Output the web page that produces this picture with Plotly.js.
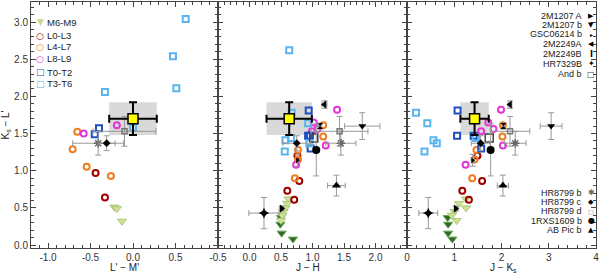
<!DOCTYPE html>
<html><head><meta charset="utf-8">
<script src="https://cdn.plot.ly/plotly-3.0.1.min.js"></script>
<style>body{margin:0;background:#fff}#c{width:600px;height:273px}</style>
</head><body><div id="c"></div>
<script>
// ---------- field dwarfs, panel 1 (L'-M' vs Ks-L') ----------
const p1_M_LM = [-0.22, -0.19, -0.13];        const p1_M_KL = [0.51, 0.49, 0.32];
const p1_L03_LM = [-0.33, -0.44];             const p1_L03_KL = [0.64, 0.97];
const p1_L47_LM = [-0.71, -0.655, -0.545, -0.26]; const p1_L47_KL = [1.29, 1.525, 1.054, 0.93];
const p1_L89_LM = [-0.58, -0.19];             const p1_L89_KL = [1.50, 1.61];
const p1_T02_LM = [-0.45, -0.40];             const p1_T02_KL = [1.49, 1.57];
const p1_T36_LM = [-0.33, 0.47, 0.51, 0.62, 0.0]; const p1_T36_KL = [2.06, 2.54, 2.11, 3.04, 1.58];

// ---------- field dwarfs, panels 2/3 (J-H, J-Ks vs Ks-L') ----------
const dG_KL = [0.37, 0.28, 0.16, 0.08]; const dG_JH = [0.50, 0.49, 0.51, 0.69]; const dG_JK = [0.86, 0.87, 0.87, 0.96];
const M_KL = [0.62, 0.56, 0.50, 0.45, 0.40, 0.33]; const M_JH = [0.62, 0.60, 0.57, 0.54, 0.52, 0.50]; const M_JK = [1.25, 1.10, 1.25, 1.00, 0.95, 1.05];
const L03_KL = [1.20, 0.86, 0.73, 0.61]; const L03_JH = [0.76, 0.79, 0.60, 0.71]; const L03_JK = [1.49, 1.59, 1.17, 1.31];
const L47_KL = [1.61, 1.46, 1.28, 1.15, 0.90]; const L47_JH = [1.17, 1.17, 0.77, 0.77, 0.72]; const L47_JK = [2.03, 2.02, 1.47, 1.43, 1.38];
const L89_KL = [1.82, 1.65, 1.56, 1.53, 1.34, 1.08]; const L89_JH = [1.39, 1.02, 1.08, 0.99, 1.21, 0.74]; const L89_JK = [1.99, 1.72, 1.83, 1.57, 2.03, 1.24];
const T02_KL = [1.81, 1.47, 1.47, 1.30]; const T02_JH = [0.94, 0.93, 0.96, 0.97]; const T02_JK = [1.07, 1.06, 1.41, 1.57];
const T36_KL = [2.62, 1.78, 1.64, 1.41, 1.37, 1.26, 1.44]; const T36_JH = [0.63, 0.67, 0.93, 0.57, 0.95, 0.56, 0.66]; const T36_JK = [-0.5, 0.19, 0.43, 0.56, 0.63, 0.37, 1.46];

// ---------- companions ----------
const compNames = ['2M1207 A','2M1207 b','GSC06214 b','2M2249A','2M2249B','HR7329B','And b','HR8799 b','HR8799 c','HR8799 d','1RXS1609 b','AB Pic b'];
const compKL    = [0.49, 1.60, 1.14, 1.89, 1.60, 0.43, 1.44, 1.37, 1.37, 1.53, 1.28, 0.80];
const compKLerr = [0.03, 0.18, 0.08, 0.05, 0.04, 0.21, 0.00, 0.16, 0.10, 0.20, 0.35, 0.14];
const compLM    = [null, null, null, null, null, null, null, -0.41, -0.31, -0.10, null, null];
const compLMerr = [0, 0, 0, 0, 0, 0, 0, 0.30, 0.10, 0.37, 0, 0];
const compJH    = [0.51, 1.79, 0.76, 1.19, 1.12, 0.23, 1.02, 1.45, 0.75, 1.43, 1.06, 1.38];
const compJHerr = [0.03, 0.28, 0.03, 0.04, 0.03, 0.24, 0.00, 0.24, 0.22, 0.45, 0.03, 0.14];
const compJK    = [1.03, 3.05, 1.39, 2.18, 2.04, 0.45, 1.74, 2.29, 1.56, 2.18, 1.77, 2.03];
const compJKerr = [0.03, 0.23, 0.03, 0.04, 0.03, 0.20, 0.00, 0.23, 0.20, 0.42, 0.03, 0.12];
const compSymbol = ['triangle-right','triangle-down','triangle-right','triangle-left','hourglass','star-diamond','square-open','asterisk-open','diamond','square-open','circle','triangle-up'];
const compSize   = [7, 7, 5, 7, 6, 8, 8, 7, 6, 5, 8, 8];
const compColor  = ['#000','#000','#000','#000','#000','#000','#444','#666','#000','#777','#000','#000'];
const compGlyph  = ['\u25B6','\u25BC','\u25B8','\u25C0','<b>I</b>','\u2726','\u25A1','\u2731','\u25C6','\u25A1','\u25CF','\u25B2'];
const compGlyphSize = [7, 7, 6, 7, 8, 8, 8, 8, 7, 6, 8, 7];

// ---------- target ----------
const tKL = 1.70, tKLerr = 0.22;
const tLM = 0.00, tLMerr = 0.28;
const tJH = 0.63, tJHerr = 0.36;
const tJK = 1.43, tJKerr = 0.30;

const W=600,H=273, L=31, R=4, T=2, B=25;
const pw = W-L-R, ph = H-T-B;
const px2x = p => (p-L)/pw, py2y = p => 1-(p-T)/ph;

const traces = [];
function field(x, y, xa, ya, sty){
  traces.push({type:'scatter', mode:'markers', x:x, y:y, xaxis:xa, yaxis:ya, showlegend:false, hoverinfo:'skip', marker:sty});
}
const S = {
  dG:  {symbol:'triangle-down', size:8, color:'#2e6b22', line:{color:'#6aa55a', width:1}},
  M:   {symbol:'triangle-down', size:8, color:'#cfe09a', line:{color:'#aec878', width:1}},
  L03: {symbol:'circle-open', size:6, color:'#a00000', line:{width:2}},
  L47: {symbol:'circle-open', size:6, color:'#f07c20', line:{width:2}},
  L89: {symbol:'circle-open', size:6, color:'#e236d4', line:{width:2}},
  T02: {symbol:'square-open', size:6, color:'#1c4fc0', line:{width:2}},
  T36: {symbol:'square-open', size:6, color:'#5ab4ee', line:{width:2}}
};
field(p1_M_LM, p1_M_KL, 'x','y', S.M);
field(p1_L03_LM, p1_L03_KL, 'x','y', S.L03);
field(p1_L47_LM, p1_L47_KL, 'x','y', S.L47);
field(p1_L89_LM, p1_L89_KL, 'x','y', S.L89);
field(p1_T02_LM, p1_T02_KL, 'x','y', S.T02);
field(p1_T36_LM, p1_T36_KL, 'x','y', S.T36);
[['x2','y2',dG_JH,M_JH,L03_JH,L47_JH,L89_JH,T02_JH,T36_JH],['x3','y3',dG_JK,M_JK,L03_JK,L47_JK,L89_JK,T02_JK,T36_JK]].forEach(a=>{
  field(a[2], dG_KL, a[0], a[1], S.dG);
  field(a[3], M_KL, a[0], a[1], S.M);
  field(a[4], L03_KL, a[0], a[1], S.L03);
  field(a[5], L47_KL, a[0], a[1], S.L47);
  field(a[6], L89_KL, a[0], a[1], S.L89);
  field(a[7], T02_KL, a[0], a[1], S.T02);
  field(a[8], T36_KL, a[0], a[1], S.T36);
});
function comp(i, xv, xe, xa, ya){
  if (xv[i] === null) return;
  traces.push({type:'scatter', mode:'markers', x:[xv[i]], y:[compKL[i]], xaxis:xa, yaxis:ya, showlegend:false, name:compNames[i],
    marker:{symbol:compSymbol[i], size:compSize[i], color:compColor[i], line:{color:compColor[i], width: compSymbol[i].indexOf('open')>=0?1.5:0}},
    error_x:{type:'data', array:[xe[i]], visible: xe[i]>0, color:'#999', thickness:1, width:3},
    error_y:{type:'data', array:[compKLerr[i]], visible: compKLerr[i]>0, color:'#999', thickness:1, width:3}});
}
compNames.forEach((n,i)=>{ comp(i, compLM, compLMerr, 'x','y'); comp(i, compJH, compJHerr, 'x2','y2'); comp(i, compJK, compJKerr, 'x3','y3'); });
[[tLM,tLMerr,'x','y'],[tJH,tJHerr,'x2','y2'],[tJK,tJKerr,'x3','y3']].forEach(a=>{
  traces.push({type:'scatter', mode:'markers', x:[a[0]], y:[tKL], xaxis:a[2], yaxis:a[3], showlegend:false,
    marker:{symbol:'square', size:10, color:'#ffff00', line:{color:'#000', width:1.5}},
    error_x:{type:'data', array:[a[1]], color:'#000', thickness:2, width:4},
    error_y:{type:'data', array:[tKLerr], color:'#000', thickness:2, width:4}});
});
const shapes = [[tLM,tLMerr,'x','y'],[tJH,tJHerr,'x2','y2'],[tJK,tJKerr,'x3','y3']].map(a=>({
  type:'rect', xref:a[2], yref:a[3], x0:a[0]-a[1], x1:a[0]+a[1], y0:tKL-tKLerr, y1:tKL+tKLerr,
  fillcolor:'#d9d9d9', line:{width:0}, layer:'below'}));

const font = {family:'Liberation Sans, Arial, sans-serif', size:10, color:'#333'};
function xax(dom, range, dec, minor, tv){
  return {domain:dom, range:range, showgrid:false, zeroline:false, showline:true, linecolor:'#444', linewidth:1, mirror:'allticks',
    ticks:'inside', ticklen:5, tickcolor:'#444', tickfont:font, tickvals:tv, ticktext:tv.map(v=>v.toFixed(dec)),
    minor:{dtick:minor, ticklen:3, ticks:'inside', tickcolor:'#444'}};
}
function yax(anchor, labels){
  return {anchor:anchor, range:[-0.04, 3.27], showgrid:false, zeroline:false, showline:true, linecolor:'#444', linewidth:1, mirror:'allticks',
    ticks:'inside', ticklen:5, tickcolor:'#444', dtick:0.5, tickformat:'.1f', tickfont:font, showticklabels:labels,
    minor:{dtick:0.1, ticklen:3, ticks:'inside', tickcolor:'#444'}};
}
const d1 = px2x(218), d2 = px2x(407);
const layout = {
  width:W, height:H, margin:{l:L, r:R, t:T, b:B}, paper_bgcolor:'#fff', plot_bgcolor:'#fff', showlegend:false,
  xaxis: xax([0,d1], [-1.2,1.0], 1, 0.1, [-1.0,-0.5,0.0,0.5]),
  xaxis2: xax([d1,d2], [-0.5,2.5], 1, 0.1, [-0.5,0.0,0.5,1.0,1.5,2.0]),
  xaxis3: xax([d2,1], [0,4], 0, 0.2, [0,1,2,3,4]),
  yaxis: Object.assign(yax('x', true), {title:{text:"K<sub>s</sub> \u2212 L'", font:{family:font.family,size:10,color:'#222'}, standoff:6}}),
  yaxis2: Object.assign(yax('x2', false), {matches:'y'}),
  yaxis3: Object.assign(yax('x3', false), {matches:'y'}),
  shapes: shapes,
  annotations: []
};
// x-axis titles
[["L' \u2212 M'",124],["J \u2212 H",308],["J \u2212 K<sub>s</sub>",503]].forEach(t=>{
  layout.annotations.push({xref:'paper', yref:'paper', x:px2x(t[1]), y:py2y(267.5), text:t[0], showarrow:false, xanchor:'center', yanchor:'middle', font:{family:font.family, size:10, color:'#222'}});
});
// legend panel 1
const leg1 = [['M6-M9','\u25BC','#c5d98a',22],['L0-L3','\u25CB','#a00000',36],['L4-L7','\u25CB','#f07c20',46.5],['L8-L9','\u25CB','#e236d4',59],['T0-T2','\u25A1','#1c4fc0',72],['T3-T6','\u25A1','#5ab4ee',84]];
leg1.forEach(e=>{
  layout.annotations.push({xref:'paper', yref:'paper', x:px2x(40), y:py2y(e[3]), text:'<b>'+e[1]+'</b>', showarrow:false, xanchor:'center', yanchor:'middle', font:{family:'DejaVu Sans', size:9, color:e[2]}});
  layout.annotations.push({xref:'paper', yref:'paper', x:px2x(45), y:py2y(e[3]), text:e[0], showarrow:false, xanchor:'left', yanchor:'middle', font:{family:font.family, size:9.5, color:'#222'}});
});
// legends panel 3
const legTop = [0,1,2,3,4,5,6], topY = [15.5,25,34.5,44.3,54,63.5,74];
const legBot = [7,8,9,10,11], botY = [192.5,202,211,220.5,230];
function legR(idx, ys){
  idx.forEach((i,k)=>{
    layout.annotations.push({xref:'paper', yref:'paper', x:px2x(584), y:py2y(ys[k]), text:compNames[i], showarrow:false, xanchor:'right', yanchor:'middle', font:{family:font.family, size:9, color:'#222'}});
    layout.annotations.push({xref:'paper', yref:'paper', x:px2x(591), y:py2y(ys[k]), text:compGlyph[i], showarrow:false, xanchor:'center', yanchor:'middle', font:{family:'DejaVu Sans', size:compGlyphSize[i], color:compColor[i]}});
  });
}
legR(legTop, topY); legR(legBot, botY);
Plotly.newPlot('c', traces, layout, {displayModeBar:false, staticPlot:true});
</script></body></html>
